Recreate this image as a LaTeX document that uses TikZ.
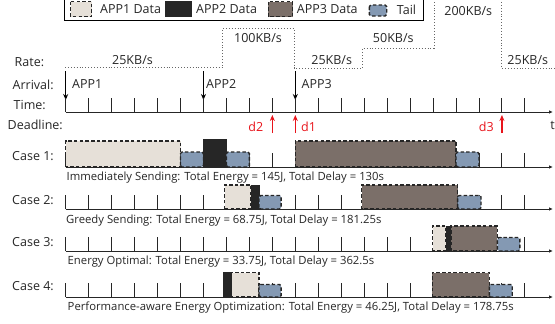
\documentclass[tikz,border=0pt]{standalone}
\usepackage{fontspec}
\setmainfont{Open Sans}
\usetikzlibrary{arrows.meta}

\definecolor{appone}{HTML}{E6E0D8}
\definecolor{apptwo}{HTML}{262626}
\definecolor{appthree}{HTML}{7B6F69}
\definecolor{tailc}{HTML}{8499B3}
\definecolor{dlred}{HTML}{E8141B}

% x position of tick #1 (in px)
\newcommand{\tx}[1]{65.7+22.96*#1}
% one packet: style, from tick, to tick, base line, height
\newcommand{\seg}[5]{\draw[#1] ({\tx{#2}},#4) rectangle ({\tx{#3}},#4-#5);}

\begin{document}
\begin{tikzpicture}[x=1pt, y=-1pt,
  lbl/.style={font=\fontsize{12.5}{14}\selectfont, text=black!85, inner sep=0pt},
  capt/.style={font=\fontsize{11.3}{13}\selectfont, text=black!85, anchor=west, inner sep=0pt},
  pkt/.style={draw=black!85, line width=1.4pt, dash pattern=on 3.5pt off 2.2pt},
  app1/.style={pkt, fill=appone},
  app2/.style={fill=apptwo, draw=apptwo, line width=0.6pt},
  app3/.style={pkt, fill=appthree},
  tailbox/.style={pkt, fill=tailc, rounded corners=1.5pt},
  axis/.style={draw=black!85, line width=0.9pt, -{Latex[length=4pt,width=3.5pt]}},
  tickmark/.style={draw=black!85, line width=0.9pt},
  arr/.style={-{Stealth[length=6pt,width=5pt]}, line width=1.3pt},
  rate/.style={dotted, draw=black!60, line width=0.9pt},
]
\useasboundingbox (0,0) rectangle (555,324);

% legend
\draw[line width=0.9pt] (64.3,-3) rectangle (423.3,20.7);
\draw[app1] (70.7,1.7) rectangle (91.7,16.7);
\draw[app2] (165.7,1.7) rectangle (191.7,16.7);
\draw[app3] (268.3,1.7) rectangle (292.7,16.7);
\draw[tailbox] (369.3,5) rectangle (386.7,16);
\node[lbl, anchor=west] (k1) at (100,9.5)   {APP1 Data};
\node[lbl, anchor=west] (k2) at (196,9.5)   {APP2 Data};
\node[lbl, anchor=west] (k3) at (296.7,9.5) {APP3 Data};
\node[lbl, anchor=west] (k4) at (396.7,9.5) {Tail};

% row labels
\node[lbl, anchor=west] (rate)     at (14.5,62)  {Rate:};
\node[lbl, anchor=west] (arrival)  at (12.5,85)  {Arrival:};
\node[lbl, anchor=west] (time)     at (13.5,105) {Time:};
\node[lbl, anchor=west] (deadline) at (7.5,125)  {Deadline:};
\node[lbl, anchor=west] (case1)    at (12,156)   {Case 1:};
\node[lbl, anchor=west] (case2)    at (12,200)   {Case 2:};
\node[lbl, anchor=west] (case3)    at (12,242)   {Case 3:};
\node[lbl, anchor=west] (case4)    at (12,286)   {Case 4:};

% rate profile
\draw[rate] (65,67.5) -| (222.7,28.3) -| (294,68) -| (362.7,48.3) -| (434,-3) -| (501.7,68.3) -- (555,68.3);
\node[lbl] (r1) at (132.5,60)  {25KB/s};
\node[lbl] (r2) at (258,38.3)  {100KB/s};
\node[lbl] (r3) at (331.7,60)  {25KB/s};
\node[lbl] (r4) at (393.3,38.3) {50KB/s};
\node[lbl] (r5) at (468.3,10.7) {200KB/s};
\node[lbl] (r6) at (527.8,60)  {25KB/s};

% arrivals
\coordinate (a1s) at ({\tx{0}},71);  \coordinate (a1e) at ({\tx{0}},100);
\coordinate (a2s) at ({\tx{6}},71);  \coordinate (a2e) at ({\tx{6}},100);
\coordinate (a3s) at ({\tx{10}},71); \coordinate (a3e) at ({\tx{10}},100);
\draw[arr] (a1s) -- (a1e);
\draw[arr] (a2s) -- (a2e);
\draw[arr] (a3s) -- (a3e);
\node[lbl, anchor=west] (app1) at (72,84)    {APP1};
\node[lbl, anchor=west] (app2) at (206,84)   {APP2};
\node[lbl, anchor=west] (app3) at (301.5,84) {APP3};

% time axis
\coordinate (t0) at ({\tx{0}},112);
\coordinate (tend) at (553,112);
\draw[axis] (t0) -- (tend);
\foreach \i in {0,...,20}
  \draw[tickmark] ({\tx{\i}},112) -- ++(0,-14);

% deadlines
\coordinate (d1s) at ({\tx{10}},133); \coordinate (d1e) at ({\tx{10}},115);
\coordinate (d2s) at ({\tx{9}},133);  \coordinate (d2e) at ({\tx{9}},115);
\coordinate (d3s) at ({\tx{19}},133); \coordinate (d3e) at ({\tx{19}},115);
\draw[arr, dlred] (d1s) -- (d1e);
\draw[arr, dlred] (d2s) -- (d2e);
\draw[arr, dlred] (d3s) -- (d3e);
\node[lbl, dlred, anchor=west] (d1) at (301,127)   {d1};
\node[lbl, dlred, anchor=east] (d2) at (263.5,127) {d2};
\node[lbl, dlred, anchor=east] (d3) at (494,127)   {d3};
\node[lbl] (t) at (552.5,125) {t};

% case axes
\foreach \y in {167,209,251,297} {
  \draw[axis] ({\tx{0}},\y) -- (553,\y);
  \foreach \i in {0,...,20}
    \draw[tickmark] ({\tx{\i}},\y) -- ++(0,-14);
}

% case 1
\seg{app1}{0}{5}{167}{26}
\seg{tailbox}{5}{6}{167}{15}
\seg{app2}{6}{7}{167}{27.5}
\seg{tailbox}{7}{8}{167}{15}
\seg{app3}{10}{17}{167}{26}
\seg{tailbox}{17}{18}{167}{15}
\node[capt] (c1) at (66.5,177.5) {Immediately Sending: Total Energy = 145J, Total Delay = 130s};

% case 2
\seg{app1}{6.92}{8.07}{209}{24}
\seg{app2}{8.07}{8.42}{209}{24}
\seg{tailbox}{8.42}{9.38}{209}{13.5}
\seg{app3}{12.89}{17.07}{209}{24}
\seg{tailbox}{17.07}{18.09}{209}{13.5}
\node[capt] (c2) at (66,220.5) {Greedy Sending: Total Energy = 68.75J, Total Delay = 181.25s};

% case 3
\seg{app1}{15.98}{16.56}{251}{25}
\seg{app2}{16.56}{16.78}{251}{25}
\seg{app3}{16.78}{18.8}{251}{25}
\seg{tailbox}{18.8}{19.78}{251}{13.5}
\node[capt] (c3) at (67.5,262) {Energy Optimal: Total Energy = 33.75J, Total Delay = 362.5s};

% case 4
\seg{app1}{7.2}{8.42}{297}{24.5}
\seg{app2}{6.86}{7.2}{297}{24.5}
\seg{tailbox}{8.42}{9.38}{297}{12.5}
\seg{app3}{15.97}{18.45}{297}{24.5}
\seg{tailbox}{18.45}{19.45}{297}{12.5}
\node[capt] (c4) at (67.5,307.5) {Performance-aware Energy Optimization: Total Energy = 46.25J, Total Delay = 178.75s};
\end{tikzpicture}
\end{document}
